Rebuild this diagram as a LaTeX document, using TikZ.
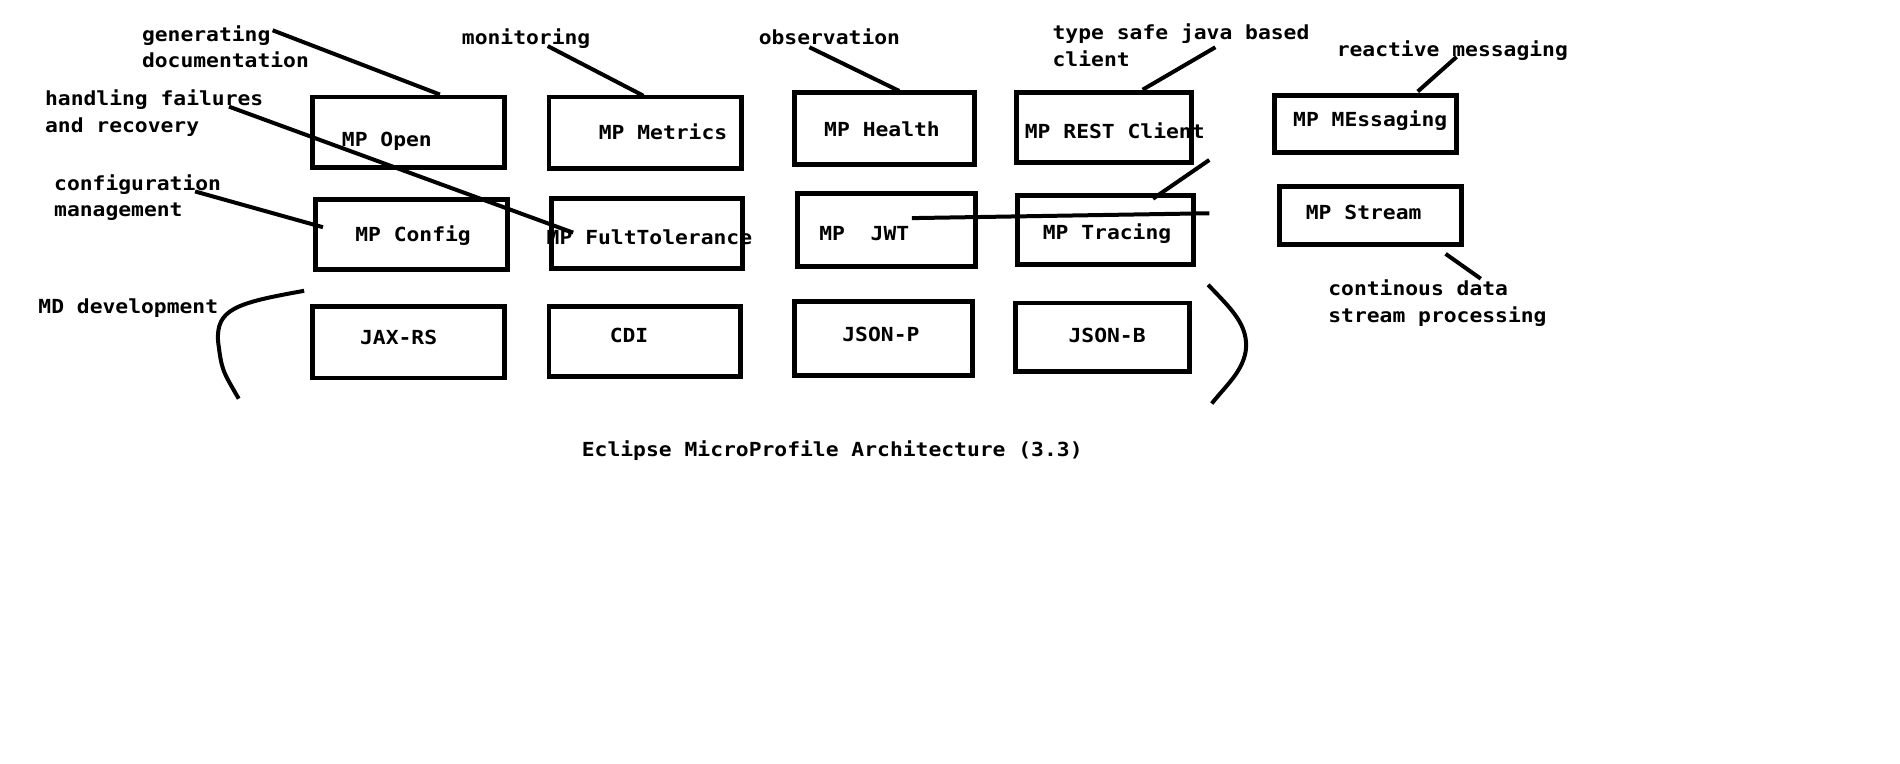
\documentclass[tikz,border=0pt]{standalone}
\usepackage{fontspec}
\usepackage{tikz}
\usetikzlibrary{calc}
\newfontfamily\paintfont{DejaVu Sans Mono}[FakeStretch=1.1]
\tikzstyle{mpbox}=[draw=black, line width=4.1pt, inner sep=0pt]
\tikzstyle{boxtext}=[anchor=base west, inner sep=0pt, font=\paintfont\bfseries\fontsize{16}{22}\selectfont]
\tikzstyle{note}=[boxtext, align=left]
\tikzstyle{pointer}=[line width=3.3pt]
\tikzset{boxsize/.style 2 args={minimum width=#1pt, minimum height=#2pt}}

\begin{document}
\begin{tikzpicture}[x=1pt, y=-1pt]
    \useasboundingbox (0,0) rectangle (1568,629.7);

    % labels round the boxes (two-line ones sit on their last line)
    \node at (117,56) [note] (gen) {generating\\documentation};
    \node at (381,37) [note] (mon) {monitoring};
    \node at (626,37) [note] (obs) {observation};
    \node at (868.5,54.5) [note] (typ) {type safe java based\\client};
    \node at (1103,47) [note] (rea) {reactive messaging};
    \node at (37,109) [note] (han) {handling failures\\and recovery};
    \node at (44.5,179) [note] (cfg) {configuration\\management};
    \node at (31.5,259) [note] (md) {MD development};
    \node at (1096,266) [note] (con) {continous data\\stream processing};
    \node at (480,377) [note] (title) {Eclipse MicroProfile Architecture (3.3)};

    % texts in the boxes
    \node at (282,120.5) [boxtext] (openTxt) {MP Open};
    \node at (494,115) [boxtext] (metricsTxt) {MP Metrics};
    \node at (680,113) [boxtext] (healthTxt) {MP Health};
    \node at (845.6,114) [boxtext] (restTxt) {MP REST Client};
    \node at (1067,104.5) [boxtext] (messagingTxt) {MP MEssaging};
    \node at (293,199) [boxtext] (configTxt) {MP Config};
    \node at (451,202) [boxtext] (faultTxt) {MP FultTolerance};
    \node at (676,198.5) [boxtext] (jwtTxt) {MP\ \ JWT};
    \node at (860.4,197.5) [boxtext] (tracingTxt) {MP Tracing};
    \node at (1077.5,181.5) [boxtext] (streamTxt) {MP Stream};
    \node at (297,284) [boxtext] (jaxrsTxt) {JAX-RS};
    \node at (503,283) [boxtext] (cdiTxt) {CDI};
    \node at (695,282) [boxtext] (jsonpTxt) {JSON-P};
    \node at (881.7,283) [boxtext] (jsonbTxt) {JSON-B};

    % boxes
    \node at (337,109) [mpbox, boxsize={157.9}{57.9}] (open) {};
    \node at (532.5,109.5) [mpbox, boxsize={158.9}{58.9}] (metrics) {};
    \node at (730,106) [mpbox, boxsize={147.9}{59.9}] (health) {};
    \node at (911,105) [mpbox, boxsize={143.9}{57.9}] (rest) {};
    \node at (1127,102.25) [mpbox, boxsize={149.9}{47.4}] (messaging) {};
    \node at (339.5,193.5) [mpbox, boxsize={157.9}{57.9}] (config) {};
    \node at (534,193) [mpbox, boxsize={157.9}{57.9}] (fault) {};
    \node at (731.5,190) [mpbox, boxsize={146.9}{59.9}] (jwt) {};
    \node at (912.5,189.5) [mpbox, boxsize={144.9}{56.9}] (tracing) {};
    \node at (1131,177.75) [mpbox, boxsize={149.9}{47.4}] (stream) {};
    \node at (337,282.5) [mpbox, boxsize={158.9}{58.9}] (jaxrs) {};
    \node at (532,282) [mpbox, boxsize={157.9}{57.9}] (cdi) {};
    \node at (729.5,279.5) [mpbox, boxsize={146.9}{60.9}] (jsonp) {};
    \node at (910,278.5) [mpbox, boxsize={143.9}{56.9}] (jsonb) {};

    % free ends of the pointers
    \coordinate (genPt) at (225,25);
    \coordinate (monPt) at (452,38);
    \coordinate (obsPt) at (668,39);
    \coordinate (typPt) at (1003,39);
    \coordinate (reaPt) at (1202,47);
    \coordinate (hanPt) at (189,88);
    \coordinate (cfgPt) at (161,158);
    \coordinate (trcPt) at (998,132);
    \coordinate (jwtPt) at (998,176);
    \coordinate (conPt) at (1222,230);

    \draw [pointer] (genPt) -- ($(open.north)+(26,0)$);
    \draw [pointer] (monPt) -- ($(metrics.north)+(-1.5,1)$);
    \draw [pointer] (obsPt) -- ($(health.north)+(12,1)$);
    \draw [pointer] (typPt) -- ($(rest.north)+(32,0)$);
    \draw [pointer] (reaPt) -- ($(messaging.north)+(43,-1)$);
    \draw [pointer] (hanPt) -- ($(fault.west)+(20,-1)$);
    \draw [pointer] (cfgPt) -- ($(config.west)+(8,-6)$);
    \draw [pointer] (trcPt) -- ($(tracing.north)+(39,5)$);
    \draw [pointer] ($(jwt.center)+(21,-10)$) -- (jwtPt);
    \draw [pointer] ($(stream.south)+(62,6)$) -- (conPt);

    % the two brackets
    \draw [pointer] (251,240) .. controls (195,250) and (178,255) .. (180,282)
        .. controls (183,305) .. (197,329);
    \draw [pointer] (997,235) .. controls (1015,254) and (1031,268) .. (1028,290)
        .. controls (1025,307) and (1012,318) .. (1000,333);
\end{tikzpicture}
\end{document}
